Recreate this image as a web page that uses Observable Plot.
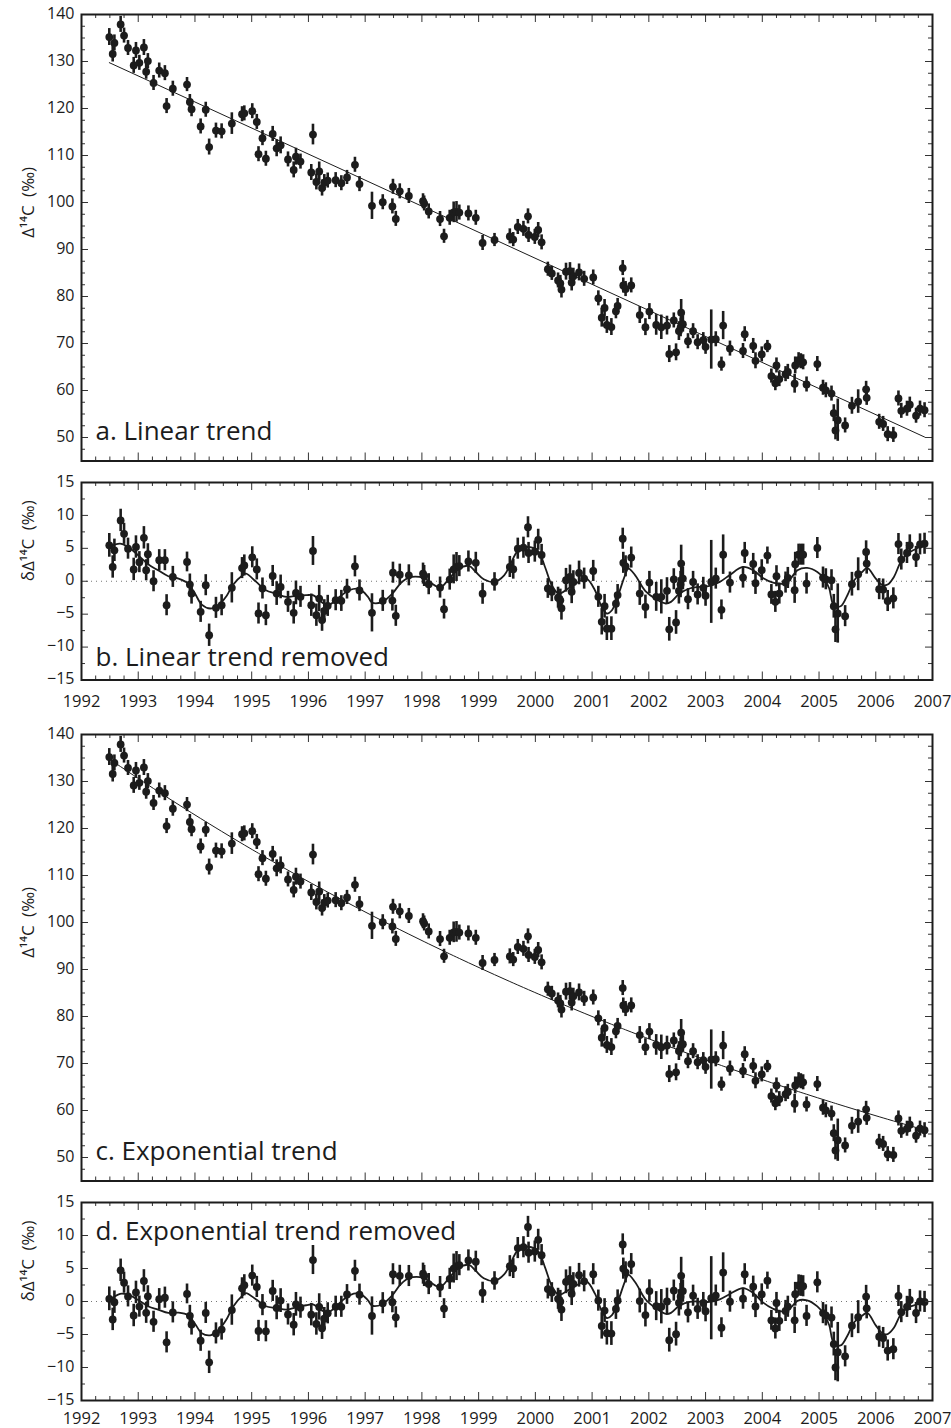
<!DOCTYPE html>
<html>
<head>
<meta charset="utf-8">
<script src="https://cdn.jsdelivr.net/npm/d3@7"></script>
<script src="https://cdn.jsdelivr.net/npm/@observablehq/plot@0.6"></script>
<style>
  body { margin: 0; background: #fff; }
  #fig { position: relative; width: 951px; height: 1428px; background: #fff; }
  #fig svg { position: absolute; left: 0; overflow: visible; }
</style>
</head>
<body>
<div id="fig"></div>
<script>
// Sampling dates (decimal years) of the Δ14C record
const dates = [
  1992.49, 1992.55, 1992.58, 1992.69, 1992.75, 1992.82, 1992.92, 1992.96, 1993.02, 1993.10,
  1993.14, 1993.17, 1993.27, 1993.37, 1993.47, 1993.50, 1993.61, 1993.86, 1993.91, 1993.94,
  1994.10, 1994.19, 1994.25, 1994.37, 1994.47, 1994.65, 1994.83, 1994.87, 1995.01, 1995.09,
  1995.12, 1995.19, 1995.25, 1995.37, 1995.44, 1995.51, 1995.64, 1995.74, 1995.78, 1995.86,
  1996.05, 1996.08, 1996.14, 1996.19, 1996.24, 1996.28, 1996.34, 1996.48, 1996.58, 1996.68,
  1996.82, 1996.90, 1997.12, 1997.31, 1997.48, 1997.49, 1997.54, 1997.61, 1997.77, 1998.02,
  1998.04, 1998.12, 1998.32, 1998.39, 1998.49, 1998.56, 1998.61, 1998.66, 1998.82, 1998.95,
  1999.07, 1999.28, 1999.55, 1999.61, 1999.69, 1999.79, 1999.87, 1999.88, 1999.99, 2000.05,
  2000.11, 2000.22, 2000.29, 2000.40, 2000.44, 2000.46, 2000.54, 2000.61, 2000.64, 2000.67,
  2000.77, 2000.86, 2001.02, 2001.11, 2001.17, 2001.22, 2001.26, 2001.34, 2001.42, 2001.45,
  2001.54, 2001.55, 2001.59, 2001.69, 2001.84, 2001.94, 2002.01, 2002.13, 2002.22, 2002.32,
  2002.36, 2002.44, 2002.48, 2002.53, 2002.56, 2002.57, 2002.60, 2002.69, 2002.78, 2002.86,
  2002.96, 2003.00, 2003.10, 2003.18, 2003.28, 2003.31, 2003.43, 2003.66, 2003.69, 2003.84,
  2003.88, 2003.99, 2004.09, 2004.16, 2004.23, 2004.25, 2004.30, 2004.41, 2004.45, 2004.57,
  2004.58, 2004.64, 2004.68, 2004.72, 2004.78, 2004.97, 2005.07, 2005.12, 2005.22, 2005.26,
  2005.29, 2005.33, 2005.46, 2005.58, 2005.69, 2005.83, 2005.84, 2006.06, 2006.13, 2006.21,
  2006.31, 2006.40, 2006.45, 2006.55, 2006.60, 2006.71, 2006.78, 2006.86
];

// Departure of each measurement from the linear trend (‰)
const linearResidual = [
  5.45, 2.17, 4.70, 9.24, 7.20, 4.95, 1.80, 5.20, 2.90, 6.60,
  1.67, 4.10, 0.00, 3.20, 3.20, -3.64, 0.66, 2.93, -0.50, -1.87,
  -4.65, -0.60, -8.20, -4.04, -3.64, -1.00, 2.00, 2.40, 3.64, 1.80,
  -4.90, -1.10, -5.15, 0.80, -1.87, -0.86, -3.13, -4.80, -1.77, -2.37,
  -3.64, 4.60, -5.15, -2.63, -5.90, -4.50, -3.74, -2.88, -2.98, -1.20,
  2.27, -1.40, -4.80, -2.98, -2.93, 1.30, -5.25, 1.00, 0.90, 1.16,
  0.80, -0.45, -0.96, -4.24, 0.25, 1.80, 2.17, 2.30, 3.00, 2.80,
  -1.90, -0.10, 2.17, 1.82, 4.95, 5.10, 8.20, 4.30, 4.50, 6.30,
  4.00, -1.10, -1.60, -2.50, -2.90, -4.10, 0.15, 0.66, -1.60, -0.10,
  1.26, 0.40, 1.57, -2.37, -6.16, -3.80, -7.20, -7.20, -3.40, -2.10,
  6.46, 2.80, 2.27, 3.60, -1.87, -3.90, -0.20, -2.37, -2.37, -1.46,
  -7.30, 0.30, -6.26, -1.46, -0.50, 2.68, 0.40, -2.73, -0.10, -2.00,
  -1.00, -2.20, -0.10, 0.40, -4.34, 4.04, -0.20, 0.56, 4.30, 2.63,
  -0.30, 1.67, 3.90, -2.00, -3.13, 0.76, -1.87, -0.20, 0.50, -1.36,
  2.60, 4.04, 4.04, 4.04, -0.35, 5.05, 0.56, 0.30, 0.15, -3.80,
  -7.30, -4.90, -5.30, -0.45, 1.06, 4.44, 2.68, -1.20, -1.26, -3.00,
  -2.60, 5.65, 3.30, 4.30, 5.45, 3.70, 5.60, 5.70
];

// One-sigma measurement uncertainty (‰)
const errors = [
  1.8, 1.7, 1.7, 1.7, 1.6, 1.6, 1.7, 1.7, 1.6, 1.7,
  1.6, 1.6, 1.6, 1.6, 1.6, 1.6, 1.6, 1.5, 1.6, 1.6,
  1.6, 1.6, 1.7, 1.6, 1.6, 2.3, 1.6, 1.6, 1.6, 1.6,
  1.6, 1.6, 1.6, 1.6, 1.8, 1.8, 1.6, 1.7, 1.8, 1.6,
  1.7, 2.2, 1.7, 2.0, 1.7, 1.7, 1.6, 1.6, 1.6, 1.5,
  1.6, 1.6, 2.9, 1.6, 1.6, 1.6, 1.6, 1.6, 1.6, 1.6,
  1.6, 1.6, 1.6, 1.5, 1.6, 2.2, 2.2, 1.6, 1.6, 1.6,
  1.6, 1.4, 1.6, 1.5, 1.6, 1.6, 1.6, 1.6, 1.6, 1.6,
  1.6, 1.5, 1.5, 1.6, 1.7, 1.8, 1.8, 1.8, 1.8, 1.7,
  1.8, 1.6, 1.6, 1.6, 2.0, 1.8, 1.8, 1.8, 1.6, 1.6,
  1.6, 1.6, 1.6, 1.6, 1.8, 1.8, 1.7, 2.2, 2.6, 2.0,
  1.8, 1.6, 1.8, 2.0, 2.0, 2.8, 1.7, 1.6, 1.6, 1.6,
  1.6, 1.6, 6.3, 1.6, 1.5, 3.0, 1.6, 1.6, 1.6, 1.6,
  1.7, 1.6, 1.3, 1.5, 1.6, 1.6, 1.6, 1.6, 1.6, 2.0,
  1.8, 1.6, 1.6, 1.6, 1.6, 1.6, 1.6, 1.6, 1.6, 1.8,
  2.0, 4.5, 1.6, 1.8, 2.5, 1.7, 1.6, 1.6, 1.6, 1.6,
  1.6, 1.6, 1.6, 1.6, 1.6, 1.6, 1.6, 1.6
];

// Low-pass fit of the departures from the linear trend (knots)
const smoothYears = [
  1992.49, 1992.68, 1992.82, 1993.00, 1993.18, 1993.35, 1993.53, 1993.71, 1993.88, 1994.00,
  1994.12, 1994.27, 1994.41, 1994.56, 1994.665, 1994.84, 1994.90, 1995.08, 1995.25, 1995.43,
  1995.61, 1995.78, 1995.96, 1996.08, 1996.25, 1996.37, 1996.55, 1996.72, 1996.90, 1997.05,
  1997.12, 1997.30, 1997.48, 1997.62, 1997.77, 1998.03, 1998.15, 1998.32, 1998.48, 1998.65,
  1998.83, 1998.95, 1999.09, 1999.28, 1999.45, 1999.55, 1999.70, 1999.88, 2000.05, 2000.17,
  2000.29, 2000.41, 2000.58, 2000.76, 2000.90, 2001.05, 2001.17, 2001.26, 2001.35, 2001.46,
  2001.58, 2001.64, 2001.76, 2001.94, 2002.13, 2002.30, 2002.39, 2002.54, 2002.72, 2002.89,
  2003.07, 2003.25, 2003.42, 2003.66, 2003.84, 2004.01, 2004.19, 2004.36, 2004.50, 2004.62,
  2004.79, 2004.97, 2005.09, 2005.18, 2005.26, 2005.38, 2005.50, 2005.62, 2005.76, 2005.85,
  2006.00, 2006.12, 2006.21, 2006.32, 2006.44, 2006.56, 2006.71, 2006.86
];
const smoothLinear = [
  5.20, 5.70, 5.20, 3.94, 2.53, 1.67, 0.76, 0.40, -0.35, -1.87,
  -3.54, -4.14, -3.64, -2.20, -0.60, 0.91, 1.16, -0.10, -1.36, -1.87,
  -2.37, -2.22, -2.12, -2.12, -3.28, -3.54, -2.37, -1.36, -1.20, -2.37,
  -3.23, -3.13, -1.87, -0.35, 0.56, 0.50, -0.20, -0.96, 0.40, 1.92,
  2.32, 1.41, 0.30, -0.10, 0.90, 2.40, 4.70, 5.20, 4.55, 2.17,
  -0.60, -1.87, -1.10, -0.10, 0.40, -1.36, -3.90, -4.90, -4.40, -2.12,
  0.90, 1.92, 0.90, -1.50, -2.73, -3.38, -3.13, -1.87, -1.10, -0.86,
  -0.70, -0.10, 0.90, 2.17, 1.67, 0.50, -0.20, -0.35, 0.45, 1.67,
  2.02, 1.41, 0.40, -1.10, -3.64, -3.80, -2.12, 0.15, 1.41, 2.02,
  0.40, -0.60, -0.50, 0.66, 2.93, 4.19, 4.95, 5.70
];

// Fitted trends: straight line and single exponential decay
const linearFit = {t0: 1992.5, value0: 129.7, slope: -5.543};
const expFit = {t0: 1992.49, value0: 134.8, rate: 0.0613};

// Axis tick values
const yearTicks = d3.range(1992, 2008);
const quarterTicks = d3.range(1992, 2007.001, 0.25);
const levelTicks = [50, 60, 70, 80, 90, 100, 110, 120, 130, 140];
const levelMinor = d3.range(45, 140.001, 2.5);
const residualTicks = [-15, -10, -5, 0, 5, 10, 15];
const residualMinor = d3.range(-15, 15.001, 2.5);

const linearAt = t => linearFit.value0 + linearFit.slope * (t - linearFit.t0);
const expAt = t => expFit.value0 * Math.exp(-expFit.rate * (t - expFit.t0));

const obs = dates.map((t, i) => {
  const v = linearAt(t) + linearResidual[i];
  return {t, v, e: errors[i], rl: linearResidual[i], re: v - expAt(t)};
});
const smooth = smoothYears.map((t, i) => ({
  t, rl: smoothLinear[i], re: smoothLinear[i] + linearAt(t) - expAt(t)
}));
const lineEnds = [dates[0], dates[dates.length - 1]].map(t => ({t, v: linearAt(t)}));
const expCurve = Array.from(new Set(dates)).sort((a, b) => a - b).map(t => ({t, v: expAt(t)}));

const W = 951, ML = 81, MR = 19;
const ink = "#1c1c1c";
const font = "'Open Sans', 'Noto Sans', 'DejaVu Sans', sans-serif";

function dataMarks(key) {
  return [
    Plot.ruleX(obs, {x: "t", y1: d => d[key] - d.e, y2: d => d[key] + d.e, stroke: ink, strokeWidth: 2.6}),
    Plot.dot(obs, {x: "t", y: key, r: 3.9, fill: ink, stroke: null})
  ];
}

function panel({top, height, mt, mb, yDomain, yTicks, yMinor, years, yearPad,
                title, titleAnchor, titleDy, yLabel, marks}) {
  const ph = height - mt - mb, pw = W - ML - MR;
  const yMajorSet = new Set(yTicks);
  const yMinorOnly = yMinor.filter(v => !yMajorSet.has(v));
  const xMinorOnly = quarterTicks.filter(v => !Number.isInteger(v));
  const tickStyle = {stroke: "#333", strokeWidth: 1};
  const chart = Plot.plot({
    width: W, height, marginTop: mt, marginBottom: mb, marginLeft: ML, marginRight: MR,
    x: {domain: [1992, 2007], axis: null},
    y: {domain: yDomain, axis: null},
    style: {fontFamily: font, fontSize: "16px", color: ink, background: "transparent", overflow: "visible"},
    marks: [
      ...marks,
      // inward ticks on all four sides of the frame
      Plot.tickX(xMinorOnly, {x: d => d, insetTop: ph - 4, ...tickStyle}),
      Plot.tickX(xMinorOnly, {x: d => d, insetBottom: ph - 4, ...tickStyle}),
      Plot.tickX(yearTicks, {x: d => d, insetTop: ph - 8, ...tickStyle}),
      Plot.tickX(yearTicks, {x: d => d, insetBottom: ph - 8, ...tickStyle}),
      Plot.tickY(yMinorOnly, {y: d => d, insetRight: pw - 4, ...tickStyle}),
      Plot.tickY(yMinorOnly, {y: d => d, insetLeft: pw - 4, ...tickStyle}),
      Plot.tickY(yTicks, {y: d => d, insetRight: pw - 7, ...tickStyle}),
      Plot.tickY(yTicks, {y: d => d, insetLeft: pw - 7, ...tickStyle}),
      Plot.axisY({ticks: yTicks, tickSize: 0, tickPadding: 7, dy: -1, label: null}),
      years ? Plot.axisX({ticks: yearTicks, tickSize: 0, tickPadding: yearPad, tickFormat: d => String(d), label: null, fontSize: 16.5}) : null,
      Plot.text([yLabel], {frameAnchor: "left", rotate: -90, dx: -53, fontSize: 17}),
      Plot.text([title], {frameAnchor: titleAnchor, textAnchor: "start", lineAnchor: "bottom", dx: 14, dy: titleDy, fontSize: 26}),
      Plot.frame({stroke: ink, strokeWidth: 2})
    ]
  });
  chart.style.top = top + "px";
  document.getElementById("fig").append(chart);
}

const levelLabel = "Δ¹⁴C\u2002(‰)";
const residualLabel = "δΔ¹⁴C\u2002(‰)";

// a. record with the straight-line fit
panel({
  top: 0, height: 480, mt: 14, mb: 19.5, yDomain: [45, 140], yTicks: levelTicks, yMinor: levelMinor,
  years: false, title: "a. Linear trend", titleAnchor: "bottom-left", titleDy: -21.5, yLabel: levelLabel,
  marks: [
    ...dataMarks("v"),
    Plot.line(lineEnds, {x: "t", y: "v", stroke: ink, strokeWidth: 1})
  ]
});

// b. departures from the straight line
panel({
  top: 480, height: 240, mt: 2, mb: 40.5, yDomain: [-15, 15], yTicks: residualTicks, yMinor: residualMinor,
  years: true, yearPad: 15, title: "b. Linear trend removed", titleAnchor: "bottom-left", titleDy: -14.5,
  yLabel: residualLabel,
  marks: [
    Plot.ruleY([0], {stroke: "#777", strokeDasharray: "1,4"}),
    ...dataMarks("rl"),
    Plot.line(smooth, {x: "t", y: "rl", curve: "catmull-rom", stroke: ink, strokeWidth: 1.8})
  ]
});

// c. record with the exponential fit
panel({
  top: 720, height: 480, mt: 14, mb: 19.5, yDomain: [45, 140], yTicks: levelTicks, yMinor: levelMinor,
  years: false, title: "c. Exponential trend", titleAnchor: "bottom-left", titleDy: -21.5, yLabel: levelLabel,
  marks: [
    ...dataMarks("v"),
    Plot.line(expCurve, {x: "t", y: "v", stroke: ink, strokeWidth: 1})
  ]
});

// d. departures from the exponential
panel({
  top: 1200, height: 228, mt: 2, mb: 28, yDomain: [-15, 15], yTicks: residualTicks, yMinor: residualMinor,
  years: true, yearPad: 12, title: "d. Exponential trend removed", titleAnchor: "top-left", titleDy: 37,
  yLabel: residualLabel,
  marks: [
    Plot.ruleY([0], {stroke: "#777", strokeDasharray: "1,4"}),
    ...dataMarks("re"),
    Plot.line(smooth, {x: "t", y: "re", curve: "catmull-rom", stroke: ink, strokeWidth: 1.8})
  ]
});
</script>
</body>
</html>
